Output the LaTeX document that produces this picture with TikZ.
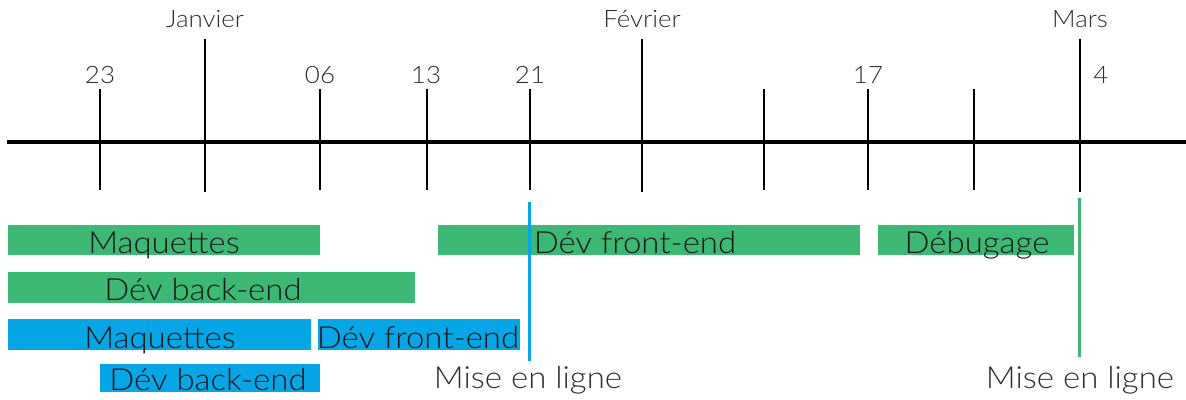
\documentclass[tikz,border=0pt]{standalone}
\usepackage{fontspec}
\setmainfont{Lato}[UprightFont={* Light},FakeStretch=1.08]
\definecolor{gbar}{RGB}{61,183,116}
\definecolor{bbar}{RGB}{6,166,230}
\definecolor{lblgray}{RGB}{45,45,45}
\begin{document}
\begin{tikzpicture}[x=1pt,y=-1pt,
  axisline/.style={line width=3.2pt,black},
  tickline/.style={line width=2.8pt,black},
  lbl/.style={font=\fontsize{24}{24}\selectfont,text=lblgray,anchor=base,inner sep=0pt},
  bartxt/.style={font=\fontsize{30.5}{30}\selectfont,text=black!90,anchor=base,inner sep=0pt},
  milestone/.style={font=\fontsize{30.5}{30}\selectfont,text=lblgray,anchor=base,inner sep=0pt},
  gfill/.style={fill=gbar},
  bfill/.style={fill=bbar}]
\useasboundingbox (0,0) rectangle (1186,399);
% axis
\coordinate (aL) at (7,142);
\coordinate (aR) at (1186,142);
\draw[axisline] (aL) -- (aR);
% small ticks
\foreach \x/\n in {100/t23,320/t06,427/t13,530/t21,764/tw,868/t17,974/tx}{
  \coordinate (\n a) at (\x,89);
  \coordinate (\n b) at (\x,190);
  \draw[tickline] (\n a) -- (\n b);
}
% month ticks
\foreach \x/\n in {205/mj,642/mf,1080/mm}{
  \coordinate (\n a) at (\x,39);
  \coordinate (\n b) at (\x,192);
  \draw[tickline] (\n a) -- (\n b);
}
% month labels
\node[lbl] (janv) at (205,27) {Janvier};
\node[lbl] (fevr) at (642,27) {Février};
\node[lbl] (mars) at (1080,27) {Mars};
% day labels
\node[lbl] (d23) at (100,83) {23};
\node[lbl] (d06) at (320,83) {06};
\node[lbl] (d13) at (426,83) {13};
\node[lbl] (d21) at (530,83) {21};
\node[lbl] (d17) at (868,83) {17};
\node[lbl] (d4) at (1101,83) {4};
% green bars
\fill[gfill] (8,225) rectangle (320,255);
\fill[gfill] (8,272) rectangle (415,303);
\fill[gfill] (438,225) rectangle (860,255);
\fill[gfill] (878,225) rectangle (1074,255);
% blue bars
\fill[bfill] (8,319) rectangle (311,350);
\fill[bfill] (318,319) rectangle (520,350);
\fill[bfill] (100,364) rectangle (320,392);
% bar texts
\node[bartxt] (gmaq) at (164,253) {Maquettes};
\node[bartxt] (gback) at (203,300) {Dév back-end};
\node[bartxt] (gfront) at (635,253) {Dév front-end};
\node[bartxt] (gdeb) at (977,253) {Débugage};
\node[bartxt] (bmaq) at (160,348) {Maquettes};
\node[bartxt] (bfront) at (418,348) {Dév front-end};
\node[bartxt] (bback) at (208,390) {Dév back-end};
% milestone lines
\coordinate (blA) at (529,202);
\coordinate (blB) at (529,361);
\draw[line width=3pt,bbar] (blA) -- (blB);
\coordinate (glA) at (1079,198);
\coordinate (glB) at (1079,357);
\draw[line width=3pt,gbar] (glA) -- (glB);
\node[milestone] (mel1) at (528,388) {Mise en ligne};
\node[milestone] (mel2) at (1080,388) {Mise en ligne};
\end{tikzpicture}
\end{document}
